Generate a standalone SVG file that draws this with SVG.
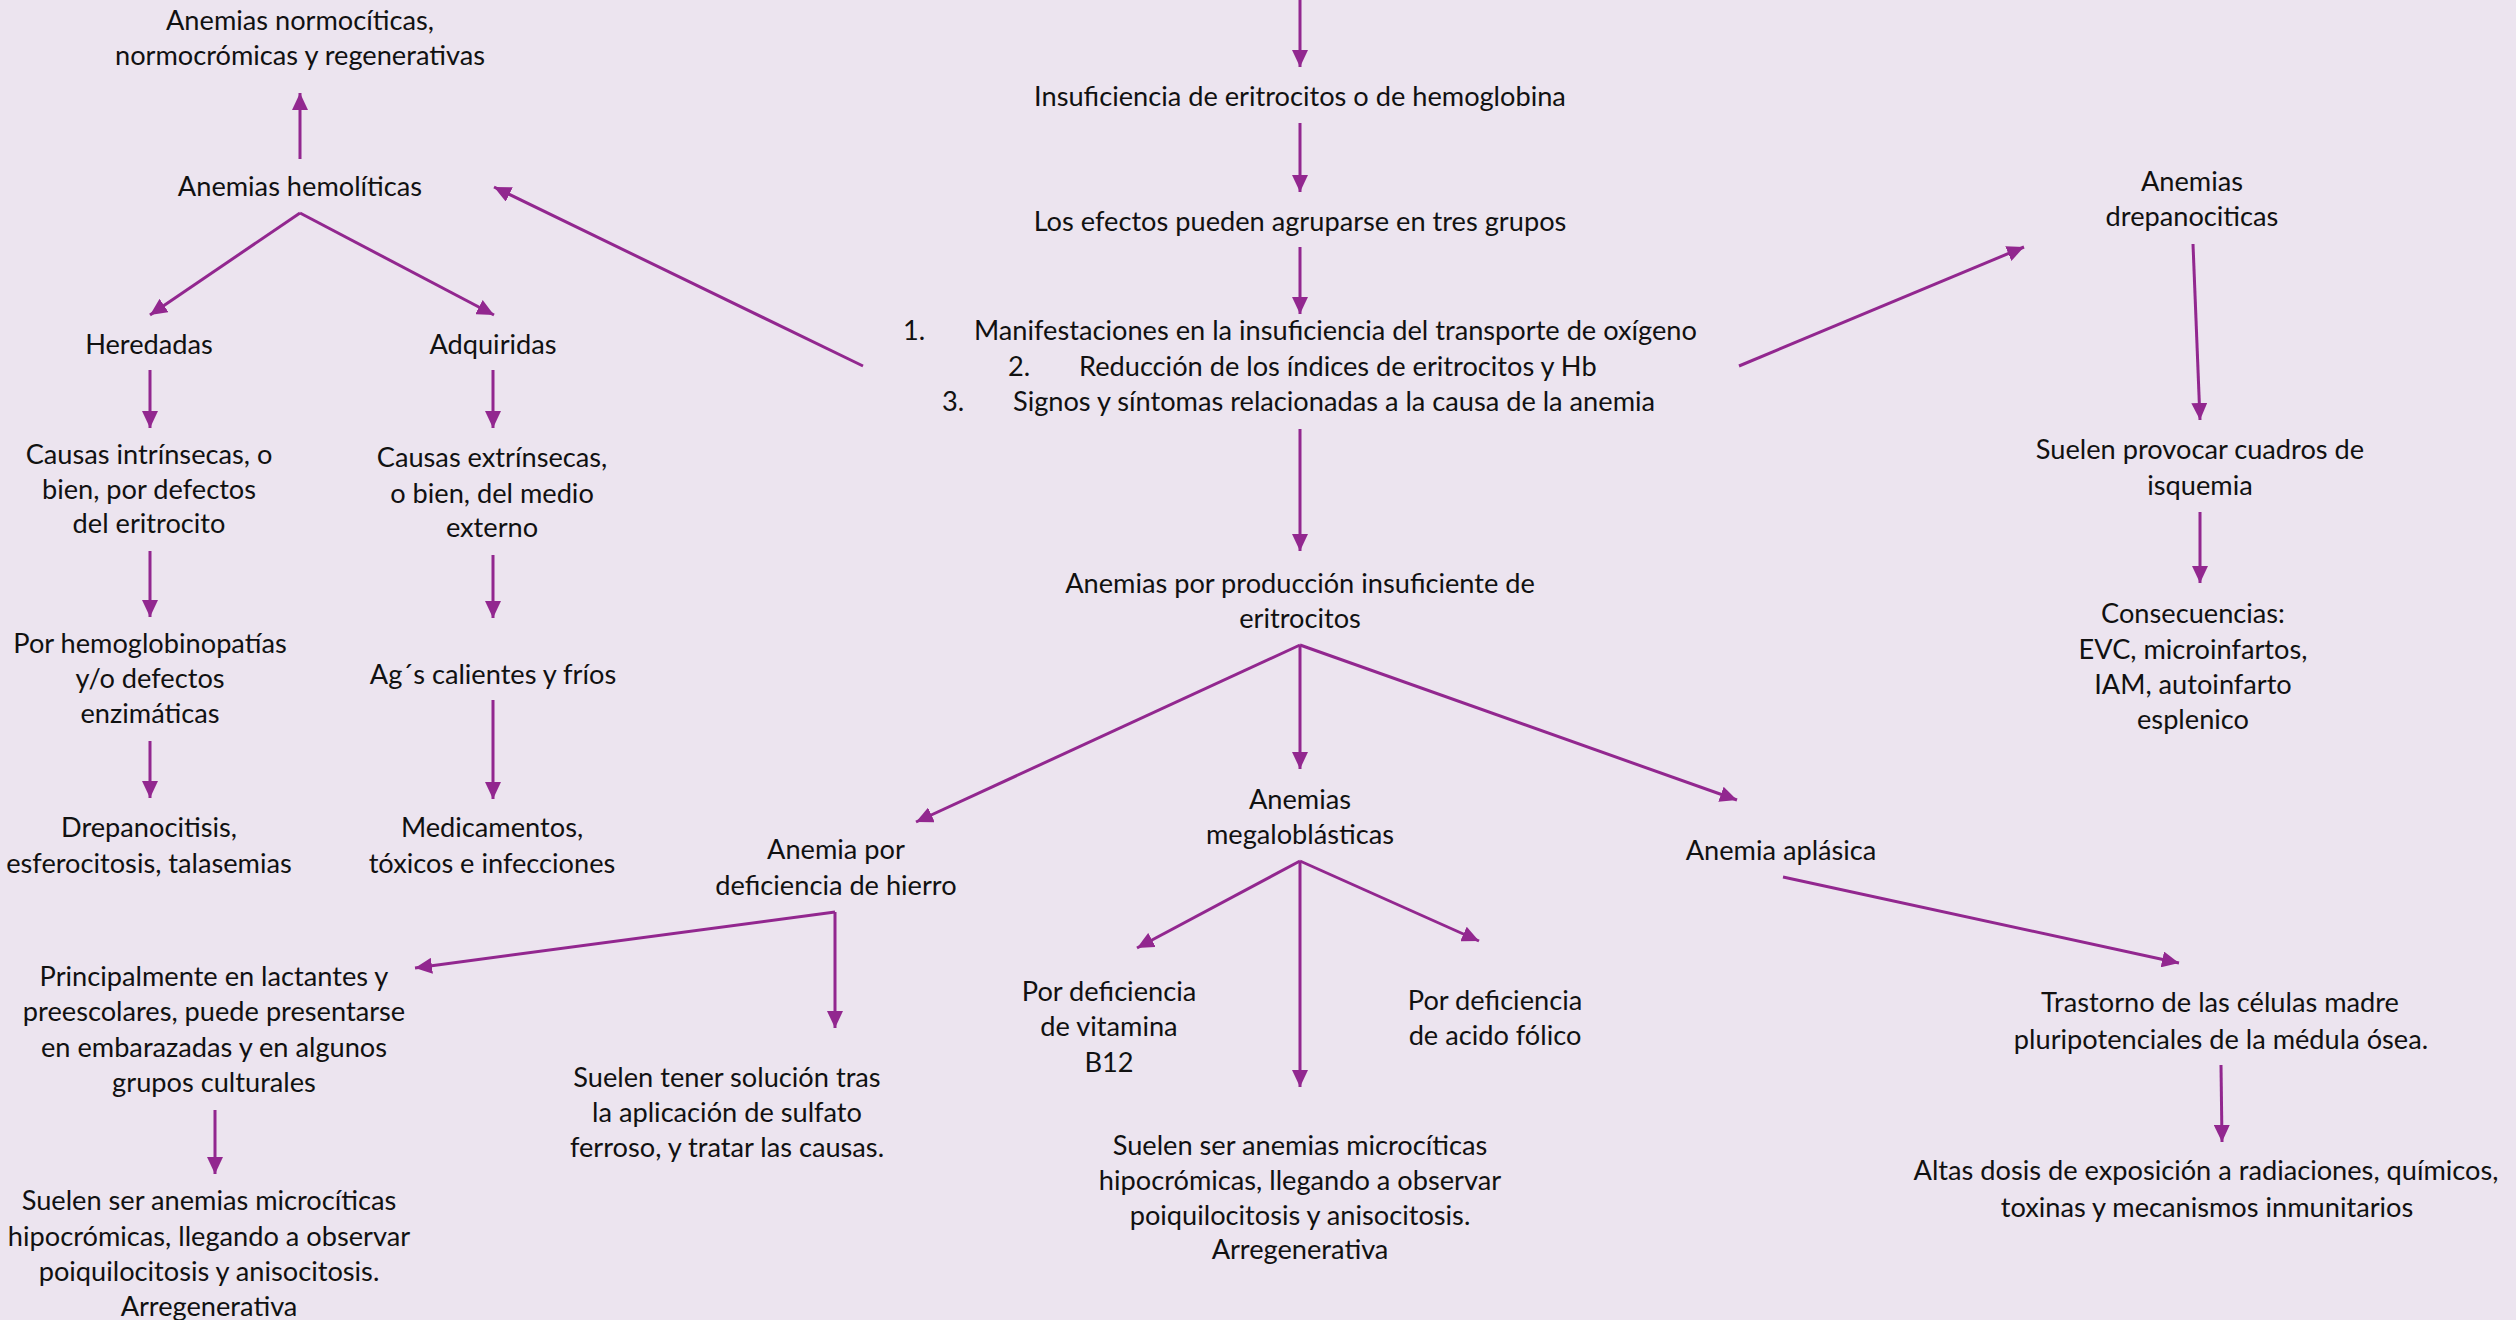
<svg xmlns="http://www.w3.org/2000/svg" width="2516" height="1320" viewBox="0 0 2516 1320">
<defs>
<marker id="ah" markerUnits="userSpaceOnUse" markerWidth="18" markerHeight="16" refX="17" refY="8" orient="auto">
<path d="M0,0 L17,8 L0,16 z" fill="#92278F"/>
</marker>
<style>
text{font-family:Lato,"Open Sans","Liberation Sans",sans-serif;font-size:27.2px;fill:#111;text-anchor:middle}
text.l{text-anchor:start}
#connectors line{stroke:#92278F;stroke-width:3;marker-end:url(#ah)}
</style>
</defs>
<rect width="2516" height="1320" fill="#ECE4EF"/>
<g id="connectors">
<line x1="1300" y1="0" x2="1300" y2="67"/>
<line x1="1300" y1="123" x2="1300" y2="192"/>
<line x1="1300" y1="247" x2="1300" y2="314"/>
<line x1="1300" y1="429" x2="1300" y2="551"/>
<line x1="863" y1="366" x2="494" y2="187"/>
<line x1="1739" y1="366" x2="2024" y2="247"/>
<line x1="300" y1="159" x2="300" y2="93"/>
<line x1="300" y1="213" x2="150" y2="315"/>
<line x1="300" y1="213" x2="494" y2="315"/>
<line x1="150" y1="370" x2="150" y2="428"/>
<line x1="493" y1="370" x2="493" y2="428"/>
<line x1="150" y1="551" x2="150" y2="617"/>
<line x1="493" y1="555" x2="493" y2="618"/>
<line x1="150" y1="741" x2="150" y2="798"/>
<line x1="493" y1="700" x2="493" y2="799"/>
<line x1="2193" y1="244" x2="2200" y2="420"/>
<line x1="2200" y1="512" x2="2200" y2="583"/>
<line x1="1300" y1="645" x2="916" y2="822"/>
<line x1="1300" y1="645" x2="1300" y2="769"/>
<line x1="1300" y1="645" x2="1737" y2="800"/>
<line x1="1300" y1="861" x2="1137" y2="948"/>
<line x1="1300" y1="861" x2="1300" y2="1087"/>
<line x1="1300" y1="861" x2="1479" y2="941"/>
<line x1="835" y1="912" x2="415" y2="968"/>
<line x1="835" y1="912" x2="835" y2="1028"/>
<line x1="215" y1="1110" x2="215" y2="1174"/>
<line x1="1783" y1="877" x2="2179" y2="963"/>
<line x1="2221" y1="1065" x2="2222" y2="1142"/>
</g>
<g id="nodes" transform="translate(0,1.5)">
<g id="n-insuficiencia"><text x="1300" y="104">Insuficiencia de eritrocitos o de hemoglobina</text></g>
<g id="n-efectos"><text x="1300" y="229">Los efectos pueden agruparse en tres grupos</text></g>
<g id="n-lista">
<text class="l" x="903" y="338">1.</text><text class="l" x="974" y="338">Manifestaciones en la insuficiencia del transporte de oxígeno</text>
<text class="l" x="1008" y="374">2.</text><text class="l" x="1079" y="374">Reducción de los índices de eritrocitos y Hb</text>
<text class="l" x="942" y="409">3.</text><text class="l" x="1013" y="409">Signos y síntomas relacionadas a la causa de la anemia</text>
</g>
<g id="n-normociticas"><text x="300" y="28">Anemias normocíticas,</text><text x="300" y="63">normocrómicas y regenerativas</text></g>
<g id="n-hemoliticas"><text x="300" y="194">Anemias hemolíticas</text></g>
<g id="n-heredadas"><text x="149" y="352">Heredadas</text></g>
<g id="n-adquiridas"><text x="493" y="352">Adquiridas</text></g>
<g id="n-intrinsecas"><text x="149" y="462">Causas intrínsecas, o</text><text x="149" y="497">bien, por defectos</text><text x="149" y="531">del eritrocito</text></g>
<g id="n-extrinsecas"><text x="492" y="465">Causas extrínsecas,</text><text x="492" y="501">o bien, del medio</text><text x="492" y="535">externo</text></g>
<g id="n-hemoglobinopatias"><text x="150" y="651">Por hemoglobinopatías</text><text x="150" y="686">y/o defectos</text><text x="150" y="721">enzimáticas</text></g>
<g id="n-ags"><text x="493" y="682">Ag´s calientes y fríos</text></g>
<g id="n-drepanocitisis"><text x="149" y="835">Drepanocitisis,</text><text x="149" y="871">esferocitosis, talasemias</text></g>
<g id="n-medicamentos"><text x="492" y="835">Medicamentos,</text><text x="492" y="871">tóxicos e infecciones</text></g>
<g id="n-drepanociticas"><text x="2192" y="189">Anemias</text><text x="2192" y="224">drepanociticas</text></g>
<g id="n-isquemia"><text x="2200" y="457">Suelen provocar cuadros de</text><text x="2200" y="493">isquemia</text></g>
<g id="n-consecuencias"><text x="2193" y="621">Consecuencias:</text><text x="2193" y="657">EVC, microinfartos,</text><text x="2193" y="692">IAM, autoinfarto</text><text x="2193" y="727">esplenico</text></g>
<g id="n-produccion"><text x="1300" y="591">Anemias por producción insuficiente de</text><text x="1300" y="626">eritrocitos</text></g>
<g id="n-hierro"><text x="836" y="857">Anemia por</text><text x="836" y="893">deficiencia de hierro</text></g>
<g id="n-megaloblasticas"><text x="1300" y="807">Anemias</text><text x="1300" y="842">megaloblásticas</text></g>
<g id="n-aplasica"><text x="1781" y="858">Anemia aplásica</text></g>
<g id="n-lactantes"><text x="214" y="984">Principalmente en lactantes y</text><text x="214" y="1019">preescolares, puede presentarse</text><text x="214" y="1055">en embarazadas y en algunos</text><text x="214" y="1090">grupos culturales</text></g>
<g id="n-microciticas1"><text x="209" y="1208">Suelen ser anemias microcíticas</text><text x="209" y="1244">hipocrómicas, llegando a observar</text><text x="209" y="1279">poiquilocitosis y anisocitosis.</text><text x="209" y="1314">Arregenerativa</text></g>
<g id="n-sulfato"><text x="727" y="1085">Suelen tener solución tras</text><text x="727" y="1120">la aplicación de sulfato</text><text x="727" y="1155">ferroso, y tratar las causas.</text></g>
<g id="n-b12"><text x="1109" y="999">Por deficiencia</text><text x="1109" y="1034">de vitamina</text><text x="1109" y="1070">B12</text></g>
<g id="n-folico"><text x="1495" y="1008">Por deficiencia</text><text x="1495" y="1043">de acido fólico</text></g>
<g id="n-microciticas2"><text x="1300" y="1153">Suelen ser anemias microcíticas</text><text x="1300" y="1188">hipocrómicas, llegando a observar</text><text x="1300" y="1223">poiquilocitosis y anisocitosis.</text><text x="1300" y="1257">Arregenerativa</text></g>
<g id="n-trastorno"><text x="2220" y="1010">Trastorno de las células madre</text><text x="2221" y="1047">pluripotenciales de la médula ósea.</text></g>
<g id="n-altas"><text x="2206" y="1178">Altas dosis de exposición a radiaciones, químicos,</text><text x="2207" y="1215">toxinas y mecanismos inmunitarios</text></g>
</g>
</svg>
